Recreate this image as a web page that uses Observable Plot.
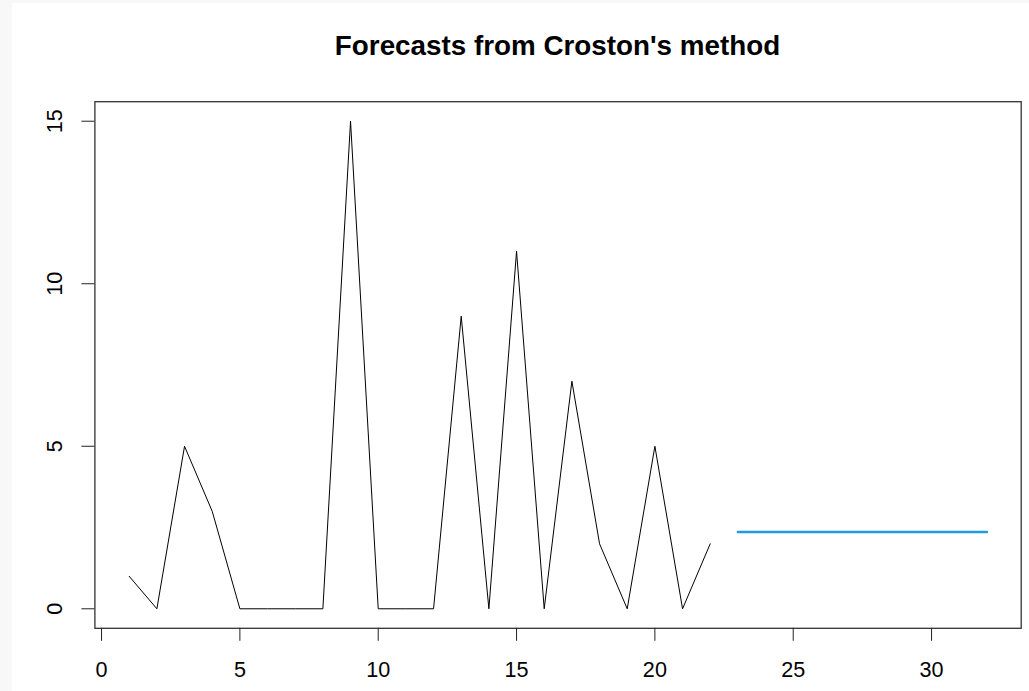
<!DOCTYPE html>
<html>
<head>
<meta charset="utf-8">
<script src="https://cdn.jsdelivr.net/npm/d3@7"></script>
<script src="https://cdn.jsdelivr.net/npm/@observablehq/plot@0.6"></script>
<style>
  html, body { margin: 0; padding: 0; background: #f8f8f8; }
  #page { position: absolute; left: 12px; top: 3px; width: 1017px; height: 688px; background: #fff; overflow: hidden; }
  #title { box-sizing: border-box; height: 77px; padding-top: 28px; padding-left: 82px; padding-right: 8px;
           text-align: center; font: bold 27.8px "Liberation Sans", Arial, sans-serif; line-height: 30px; color: #000; }
  svg { display: block; }
</style>
</head>
<body>
<div id="page">
  <div id="title">Forecasts from Croston's method</div>
  <div id="chart"></div>
</div>
<script>
// Observed series (time index and demand)
const time = [1,2,3,4,5,6,7,8,9,10,11,12,13,14,15,16,17,18,19,20,21,22];
const demand = [1,0,5,3,0,0,0,0,15,0,0,0,9,0,11,0,7,2,0,5,0,2];
// Croston point forecasts
const forecastTime = [23,24,25,26,27,28,29,30,31,32];
const forecastValue = [2.36,2.36,2.36,2.36,2.36,2.36,2.36,2.36,2.36,2.36];
// Tick labels
const xTicks = [0,5,10,15,20,25,30];
const yTicks = [0,5,10,15];

const observed = time.map((t, i) => ({t, v: demand[i]}));
const forecast = forecastTime.map((t, i) => ({t, v: forecastValue[i]}));

const chart = Plot.plot({
  width: 1017,
  height: 611,
  marginLeft: 82.4,
  marginRight: 8.3,
  marginTop: 21.2,
  marginBottom: 63.2,
  style: {fontFamily: '"Liberation Sans", Arial, sans-serif', fontSize: "21.6px", color: "#000", background: "#fff"},
  x: {domain: [-0.24, 33.24]},
  y: {domain: [-0.6, 15.6]},
  marks: [
    Plot.frame({stroke: "#333", strokeWidth: 1.3}),
    Plot.axisX({ticks: xTicks, tickSize: 13, tickPadding: 20.7, label: null, tickFormat: d => String(d), stroke: "#222"}),
    Plot.axisY({ticks: yTicks, tickSize: 13, tickPadding: 19.5, tickRotate: -90, label: null, tickFormat: d => String(d), stroke: "#222"}),
    Plot.line(observed, {x: "t", y: "v", stroke: "#000", strokeWidth: 1}),
    Plot.line(forecast, {x: "t", y: "v", stroke: "#2297E6", strokeWidth: 2.5})
  ]
});
document.getElementById("chart").appendChild(chart);
</script>
</body>
</html>
